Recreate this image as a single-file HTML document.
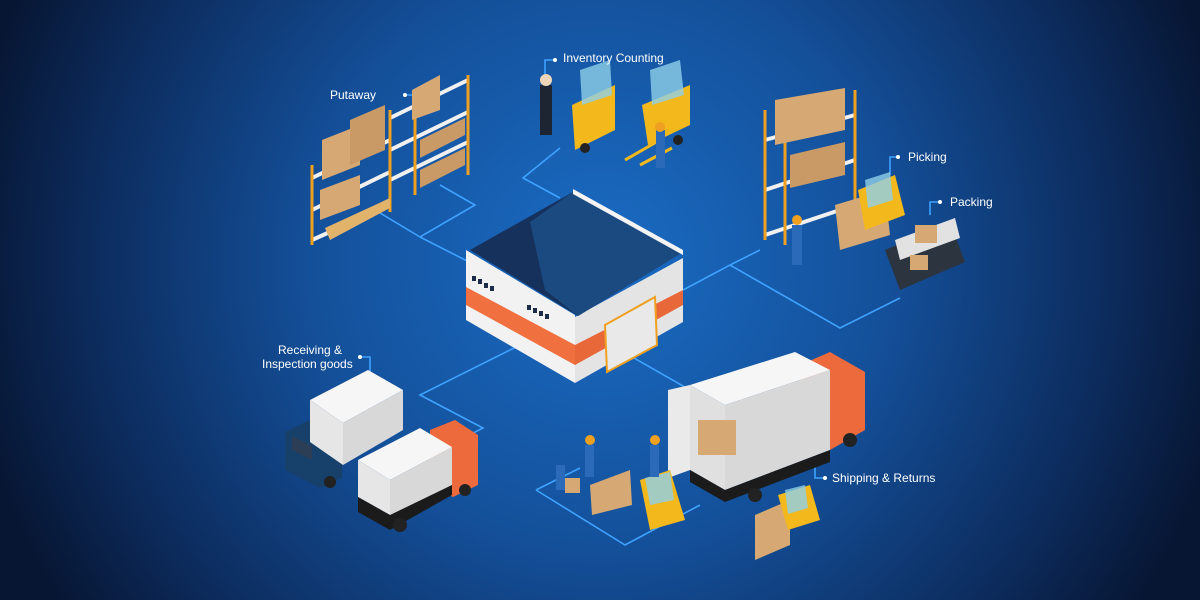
<!DOCTYPE html>
<html><head><meta charset="utf-8"><style>
html,body{margin:0;padding:0;width:1200px;height:600px;overflow:hidden;background:#0b1e42}
svg{display:block}
text{font-family:"Liberation Sans",sans-serif;font-size:12px;fill:#fff}
</style></head><body>
<svg width="1200" height="600" viewBox="0 0 1200 600" xmlns="http://www.w3.org/2000/svg">
<defs>
<radialGradient id="bg" cx="600" cy="260" r="640" gradientUnits="userSpaceOnUse">
<stop offset="0" stop-color="#1a6cc4"/><stop offset="0.45" stop-color="#14509a"/><stop offset="0.8" stop-color="#0c2b5c"/><stop offset="1" stop-color="#071633"/>
</radialGradient>
</defs>
<rect width="1200" height="600" fill="url(#bg)"/>
<g stroke="#3fa2ff" stroke-width="1.6" fill="none">
<polyline points="375,210 420,237 475,205 440,185"/>
<polyline points="420,237 475,265"/>
<polyline points="560,148 523,178 560,198"/>
<polyline points="683,290 730,265 840,328 900,298"/>
<polyline points="730,265 760,250"/>
<polyline points="620,350 690,390"/>
<polyline points="520,345 420,395 483,428 440,450"/>
<polyline points="536,490 625,545 700,505"/>
<polyline points="536,490 580,468"/>
<polyline points="405,95 420,95 420,110"/>
<polyline points="555,60 545,60 545,80"/>
<polyline points="360,357 370,357 370,375"/>
<polyline points="898,157 890,157 890,175"/>
<polyline points="940,202 930,202 930,215"/>
<polyline points="825,478 815,478 815,465"/>
</g>
<g fill="#fff"><circle cx="405" cy="95" r="2"/><circle cx="555" cy="60" r="2"/><circle cx="360" cy="357" r="2"/><circle cx="898" cy="157" r="2"/><circle cx="940" cy="202" r="2"/><circle cx="825" cy="478" r="2"/></g>

<!-- warehouse -->
<polygon points="466,250 575,315 575,383 466,320" fill="#f2f2f2"/>
<polygon points="575,317 683,258 683,322 575,383" fill="#e4e4e4"/>
<polygon points="466,287 575,345 575,365 466,305" fill="#f07040"/>
<polygon points="575,345 683,290 683,305 575,365" fill="#e8683a"/>
<polygon points="470,250 573,192 683,252 578,316" fill="#15315c"/>
<polygon points="530,222 573,192 683,252 578,316 545,290" fill="#1b4a80"/>
<polygon points="573,189 683,250 683,255 573,194" fill="#f4f4f4"/>
<polygon points="605,325 655,297 657,345 607,372" fill="#e9e9e9" stroke="#f0a020" stroke-width="2"/>
<g fill="#1b2b48"><rect x="472" y="276" width="4" height="5"/><rect x="478" y="279" width="4" height="5"/><rect x="484" y="283" width="4" height="5"/><rect x="490" y="286" width="4" height="5"/><rect x="527" y="305" width="4" height="5"/><rect x="533" y="308" width="4" height="5"/><rect x="539" y="311" width="4" height="5"/><rect x="545" y="314" width="4" height="5"/></g>

<!-- top-left shelves -->
<g>
<g stroke="#f0f0f0" stroke-width="4"><line x1="312" y1="178" x2="390" y2="140"/><line x1="312" y1="210" x2="390" y2="172"/><line x1="312" y1="240" x2="390" y2="205"/><line x1="390" y1="118" x2="468" y2="80"/><line x1="390" y1="150" x2="468" y2="112"/><line x1="390" y1="180" x2="468" y2="142"/></g>
<g stroke="#f0a020" stroke-width="3"><line x1="312" y1="165" x2="312" y2="245"/><line x1="390" y1="110" x2="390" y2="212"/><line x1="468" y1="75" x2="468" y2="175"/><line x1="415" y1="95" x2="415" y2="195"/></g>
<polygon points="322,140 360,125 360,165 322,180" fill="#d6a873"/>
<polygon points="350,120 385,105 385,150 350,165" fill="#c99a66"/>
<polygon points="412,90 440,75 440,110 412,120" fill="#d6a873"/>
<polygon points="420,140 465,118 465,135 420,158" fill="#c99a66"/>
<polygon points="420,170 465,148 465,165 420,188" fill="#c99a66"/>
<polygon points="325,228 390,198 390,208 330,240" fill="#e2b36a"/>
<polygon points="320,190 360,175 360,205 320,220" fill="#d6a873"/>
</g>

<!-- forklifts top -->
<g>
<rect x="540" y="85" width="12" height="50" fill="#1d2533"/><circle cx="546" cy="80" r="6" fill="#f0d6b8"/>
<polygon points="572,105 615,85 615,130 575,150" fill="#f2b81c"/>
<polygon points="580,70 610,60 612,95 582,105" fill="#8ed0e8" opacity="0.8"/>
<polygon points="642,105 690,85 690,125 648,145" fill="#f2b81c"/>
<polygon points="650,70 680,60 684,95 652,105" fill="#8ed0e8" opacity="0.8"/>
<g stroke="#f2b81c" stroke-width="3"><line x1="625" y1="160" x2="660" y2="140"/><line x1="640" y1="165" x2="672" y2="148"/></g>
<rect x="656" y="130" width="9" height="38" fill="#2a6ab8"/><circle cx="660" cy="127" r="5" fill="#f0a020"/>
<circle cx="585" cy="148" r="5" fill="#222"/><circle cx="678" cy="140" r="5" fill="#222"/>
</g>

<!-- right shelves -->
<g>
<g stroke="#f0f0f0" stroke-width="4"><line x1="765" y1="140" x2="855" y2="115"/><line x1="765" y1="190" x2="855" y2="160"/><line x1="765" y1="235" x2="855" y2="205"/></g>
<g stroke="#f0a020" stroke-width="3"><line x1="765" y1="110" x2="765" y2="240"/><line x1="785" y1="120" x2="785" y2="245"/><line x1="855" y1="90" x2="855" y2="205"/></g>
<polygon points="775,100 845,88 845,130 775,145" fill="#d6a873"/>
<polygon points="790,155 845,142 845,175 790,188" fill="#c99a66"/>
<polygon points="835,205 885,190 890,235 840,250" fill="#d6a873"/>
<polygon points="858,190 895,175 905,215 865,230" fill="#f2b81c"/>
<polygon points="865,180 890,172 893,200 868,208" fill="#8ed0e8" opacity="0.8"/>
<rect x="792" y="225" width="10" height="40" fill="#2a6ab8"/><circle cx="797" cy="220" r="5" fill="#f0a020"/>
<polygon points="885,250 950,222 965,262 900,290" fill="#2c3440"/>
<polygon points="895,240 955,218 960,238 900,260" fill="#e2e2e2"/>
<rect x="915" y="225" width="22" height="18" fill="#d6a873"/>
<rect x="910" y="255" width="18" height="15" fill="#d6a873"/>
</g>

<!-- left trucks -->
<g>
<polygon points="285,432 310,420 342,438 342,478 320,488 285,470" fill="#17416b"/>
<polygon points="292,436 312,446 312,460 292,450" fill="#2c3e56"/>
<polygon points="310,400 368,370 403,390 343,423" fill="#f6f6f6"/>
<polygon points="310,400 343,423 343,465 310,442" fill="#e6e6e6"/>
<polygon points="343,423 403,390 403,430 343,465" fill="#d8d8d8"/>
<circle cx="330" cy="482" r="6" fill="#222"/>
<polygon points="430,430 455,420 478,435 478,485 453,497 430,485" fill="#ec6a3c"/>
<polygon points="358,460 420,428 452,447 390,480" fill="#f6f6f6"/>
<polygon points="358,460 390,480 390,515 358,497" fill="#e6e6e6"/>
<polygon points="390,480 452,447 452,485 390,518" fill="#d8d8d8"/>
<polygon points="358,497 390,515 452,485 452,495 390,530 358,512" fill="#1b1b1b"/>
<circle cx="400" cy="525" r="7" fill="#222"/><circle cx="465" cy="490" r="6" fill="#222"/>
</g>

<!-- big truck -->
<g>
<polygon points="800,365 830,352 865,372 865,430 830,450 800,440" fill="#ec6a3c"/>
<polygon points="690,385 795,352 830,370 725,405" fill="#f6f6f6"/>
<polygon points="690,385 725,405 725,490 690,470" fill="#e0e0e0"/>
<polygon points="725,405 830,370 830,450 725,490" fill="#d8d8d8"/>
<polygon points="668,390 690,385 690,470 668,478" fill="#eaeaea"/>
<polygon points="690,470 725,490 830,450 830,462 725,502 690,482" fill="#1b1b1b"/>
<rect x="698" y="420" width="38" height="35" fill="#d6a873"/>
<circle cx="755" cy="495" r="7" fill="#222"/><circle cx="850" cy="440" r="7" fill="#222"/>
<polygon points="755,515 790,500 790,545 755,560" fill="#d6a873"/>
<polygon points="778,495 810,485 820,520 788,530" fill="#f2b81c"/>
<polygon points="785,490 805,485 808,508 788,514" fill="#8ed0e8" opacity="0.8"/>
<polygon points="640,480 670,470 685,520 650,530" fill="#f2b81c"/>
<polygon points="645,478 670,472 674,500 650,505" fill="#8ed0e8" opacity="0.8"/>
<polygon points="590,485 630,470 632,505 592,515" fill="#d6a873"/>
<rect x="565" y="478" width="15" height="15" fill="#d6a873"/>
<rect x="585" y="445" width="9" height="32" fill="#2a6ab8"/><circle cx="590" cy="440" r="5" fill="#f0a020"/>
<rect x="556" y="465" width="9" height="25" fill="#2a6ab8"/>
<rect x="650" y="445" width="9" height="32" fill="#2a6ab8"/><circle cx="655" cy="440" r="5" fill="#f0a020"/>
</g>

<text x="563" y="62">Inventory Counting</text>
<text x="330" y="99">Putaway</text>
<text x="908" y="161">Picking</text>
<text x="950" y="206">Packing</text>
<text x="278" y="354">Receiving &amp;</text>
<text x="262" y="368">Inspection goods</text>
<text x="832" y="482">Shipping &amp; Returns</text>
</svg>
</body></html>
